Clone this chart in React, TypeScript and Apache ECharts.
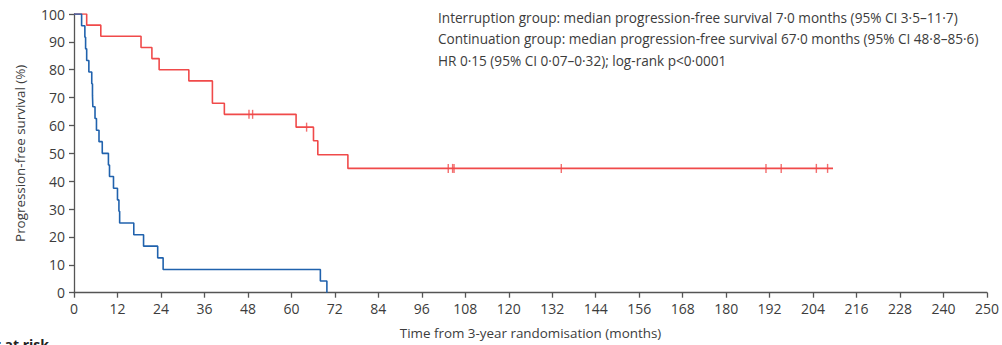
import React, { useEffect, useRef } from "react";
import * as echarts from "echarts";

// Interruption group (blue): event times (months) and survival (%) after each event
const blueTimes = [0, 2.1, 3.0, 3.2, 3.5, 4.1, 4.9, 5.1, 5.2, 5.8, 6.2, 6.9, 7.8, 9.5, 9.8, 10.9, 12.0, 12.4, 12.6, 16.5, 19.2, 23.1, 24.6, 68.0, 69.8];
const blueSurv = [100, 95.8, 91.7, 87.5, 83.3, 79.2, 75.0, 70.8, 66.7, 62.5, 58.3, 54.2, 50.0, 45.8, 41.7, 37.5, 33.3, 29.2, 25.0, 20.8, 16.7, 12.5, 8.3, 4.2, 0];

// Continuation group (red)
const redTimes = [0, 3.5, 7.4, 18.5, 21.5, 23.5, 31.7, 38.2, 41.5, 61.3, 66.1, 67.3, 75.6, 209.5];
const redSurv = [100, 96, 92, 88, 84, 80, 76, 68, 64, 59.4, 54.5, 49.5, 44.6, 44.6];
// censor marks (red)
const redCensorTimes = [48.3, 49.3, 64.2, 103.3, 104.5, 104.9, 134.5, 191.0, 195.2, 204.9, 208.0];
const redCensorSurv = [64, 64, 59.4, 44.6, 44.6, 44.6, 44.6, 44.6, 44.6, 44.6, 44.6];

const annotationLines = [
  "Interruption group: median progression-free survival 7·0 months (95% CI 3·5–11·7)",
  "Continuation group: median progression-free survival 67·0 months (95% CI 48·8–85·6)",
  "HR 0·15 (95% CI 0·07–0·32); log-rank p<0·0001",
];

const xAxisName = "Time from 3-year randomisation (months)";
const yAxisName = "Progression-free survival (%)";
const riskLabel = "Number at risk";

const RED = "#f04a4a";
const BLUE = "#2062ad";
const FONT = "'Open Sans', 'Noto Sans', sans-serif";
const TXT = "#3c3c3c";

export default function App() {
  const ref = useRef<HTMLDivElement>(null);
  useEffect(() => {
    document.body.style.margin = "0";
    const chart = echarts.init(ref.current!, null, { renderer: "svg" });
    const blueData = blueTimes.map((t, i) => [t, blueSurv[i]]);
    const redData = redTimes.map((t, i) => [t, redSurv[i]]);
    const censorData = redCensorTimes.map((t, i) => [t, redCensorSurv[i]]);
    chart.setOption({
      animation: false,
      textStyle: { fontFamily: FONT },
      grid: { left: 74, right: 14.5, top: 14, bottom: 52.3 },
      xAxis: {
        type: "value",
        min: 0,
        max: 252,
        interval: 12,
        name: xAxisName,
        nameLocation: "middle",
        nameGap: 34,
        nameTextStyle: { fontSize: 13.4, color: TXT, fontFamily: FONT },
        axisLine: { lineStyle: { color: "#555", width: 1.3 } },
        axisTick: { length: 5, lineStyle: { color: "#555", width: 1.3 } },
        axisLabel: {
          fontSize: 14,
          color: TXT,
          margin: 9,
          fontFamily: FONT,
          formatter: (v: number) => (v === 252 ? "250" : String(v)),
        },
        splitLine: { show: false },
      },
      yAxis: {
        type: "value",
        min: 0,
        max: 100,
        interval: 10,
        name: yAxisName,
        nameLocation: "middle",
        nameGap: 48,
        nameTextStyle: { fontSize: 13.4, color: TXT, fontFamily: FONT },
        axisLine: { show: true, lineStyle: { color: "#555", width: 1.3 } },
        axisTick: { show: true, length: 5, lineStyle: { color: "#555", width: 1.3 } },
        axisLabel: { fontSize: 14, color: TXT, margin: 9, fontFamily: FONT },
        splitLine: { show: false },
      },
      graphic: [
        {
          type: "group",
          left: 438,
          top: 10,
          children: annotationLines.map((s, i) => ({
            type: "text",
            x: 0,
            y: i * 21.5,
            style: { text: s, fontSize: 13.6, fill: TXT, fontFamily: FONT },
          })),
        },
        {
          type: "text",
          right: 953,
          top: 337,
          style: { text: riskLabel, fontSize: 14, fontWeight: "bold", fill: "#222", fontFamily: FONT },
        },
      ],
      series: [
        {
          type: "line",
          data: redData,
          step: "end",
          showSymbol: false,
          lineStyle: { color: RED, width: 1.6 },
          z: 3,
        },
        {
          type: "line",
          data: blueData,
          step: "end",
          showSymbol: false,
          lineStyle: { color: BLUE, width: 1.6 },
          z: 4,
        },
        {
          type: "scatter",
          data: censorData,
          symbol: "rect",
          symbolSize: [1.4, 9],
          itemStyle: { color: RED },
          z: 5,
        },
      ],
    });
    return () => chart.dispose();
  }, []);
  return (
    <div
      ref={ref}
      style={{ position: "absolute", left: 0, top: 0, width: 1002, height: 345 }}
    />
  );
}
